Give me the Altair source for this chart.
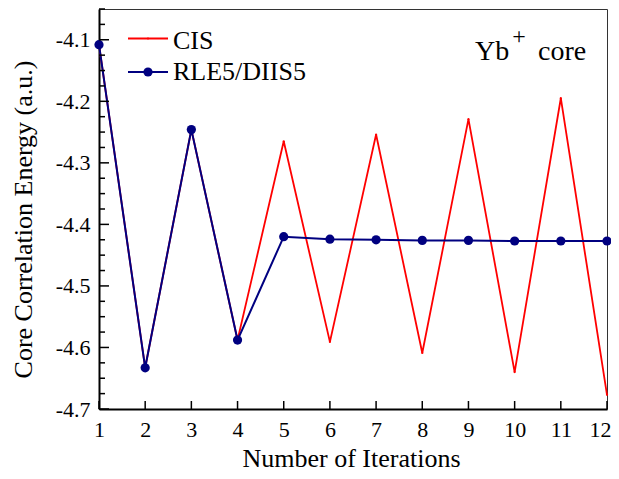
import altair as alt
import pandas as pd

# ---- data ----
iterations = [1, 2, 3, 4, 5, 6, 7, 8, 9, 10, 11, 12]
cis = [-4.108, -4.633, -4.246, -4.588, -4.265, -4.591, -4.254, -4.609, -4.229, -4.640, -4.195, -4.677]
rle = [-4.108, -4.633, -4.246, -4.588, -4.420, -4.424, -4.425, -4.426, -4.426, -4.427, -4.427, -4.427]
series_names = ["CIS", "RLE5/DIIS5"]
x_ticks = iterations
y_major = [-4.7, -4.6, -4.5, -4.4, -4.3, -4.2, -4.1]
y_minor = [round(-4.7 + 0.025 * i, 3) for i in range(1, 27) if i % 4]

FONT = "'Liberation Serif', 'Times New Roman', Times, serif"
RED = "#FF0000"
NAVY = "#000080"
W, H = 508, 400

df_cis = pd.DataFrame({"it": iterations, "E": cis})
df_rle = pd.DataFrame({"it": iterations, "E": rle})
df_xt = pd.DataFrame({"it": x_ticks})
df_ymaj = pd.DataFrame({"E": y_major})
df_ymin = pd.DataFrame({"E": y_minor})

x_scale = alt.Scale(domain=[1, 12], nice=False, zero=False)
y_scale = alt.Scale(domain=[-4.7, -4.05], nice=False, zero=False)

x_axis = alt.Axis(
    values=x_ticks, format="d", title="Number of Iterations",
    ticks=False, tickSize=0, grid=False, labelFlush=False,
    labelAlign={"condition": {"test": "datum.value == 12", "value": "right"}, "value": "center"},
    labelOffset={"condition": {"test": "datum.value == 12", "value": 4}, "value": 0},
    labelPadding=10, labelFont=FONT, labelFontSize=22, labelColor="black",
    domainColor="black", domainWidth=2,
    titleFont=FONT, titleFontSize=26, titleFontWeight="normal", titleColor="black",
    titleX=252, titleY=57, titleBaseline="alphabetic", titleAlign="center",
)
y_axis = alt.Axis(
    values=y_major, labelExpr="'-' + format(abs(datum.value), '.1f')",
    title="Core Correlation Energy (a.u.)",
    ticks=False, tickSize=0, grid=False, labelFlush=False,
    labelPadding=9, labelFont=FONT, labelFontSize=22, labelColor="black",
    domainColor="black", domainWidth=2,
    titleFont=FONT, titleFontSize=26, titleFontWeight="normal", titleColor="black",
    titleAngle=270, titleX=-68, titleY=210, titleBaseline="alphabetic", titleAlign="center",
)

X = alt.X("it:Q", scale=x_scale, axis=x_axis)
Y = alt.Y("E:Q", scale=y_scale, axis=y_axis)

cis_line = alt.Chart(df_cis).mark_line(color=RED, strokeWidth=1.8).encode(x=X, y=Y)
cis_pts = alt.Chart(df_cis).mark_point(color=RED, filled=True, size=5, opacity=1).encode(x=X, y=Y)
rle_line = alt.Chart(df_rle).mark_line(color=NAVY, strokeWidth=2).encode(x=X, y=Y)
rle_pts = alt.Chart(df_rle).mark_point(color=NAVY, filled=True, size=85, opacity=1).encode(x=X, y=Y)

# inward ticks
xt = alt.Chart(df_xt).mark_rule(color="black", strokeWidth=1.5).encode(
    x=X, y=alt.value(H), y2=alt.value(H - 8))
ymaj = alt.Chart(df_ymaj).mark_rule(color="black", strokeWidth=1.5).encode(
    y=Y, x=alt.value(0), x2=alt.value(10))
ymin = alt.Chart(df_ymin).mark_rule(color="black", strokeWidth=1.5).encode(
    y=Y, x=alt.value(0), x2=alt.value(6))

# manual legend
def txt(s, x, y, size, align="left", baseline="alphabetic"):
    return alt.Chart(pd.DataFrame({"t": [s]})).mark_text(
        font=FONT, fontSize=size, color="black", align=align, baseline=baseline
    ).encode(text="t:N", x=alt.value(x), y=alt.value(y))

leg_df = pd.DataFrame({"name": series_names})
leg_cis_line = alt.Chart(leg_df.iloc[[0]]).mark_rule(color=RED, strokeWidth=2).encode(
    x=alt.value(29), x2=alt.value(69), y=alt.value(29.5))
leg_cis_pt = alt.Chart(leg_df.iloc[[0]]).mark_point(color=RED, filled=True, size=5, opacity=1).encode(
    x=alt.value(49), y=alt.value(29.5))
leg_rle_line = alt.Chart(leg_df.iloc[[1]]).mark_rule(color=NAVY, strokeWidth=2).encode(
    x=alt.value(29), x2=alt.value(69), y=alt.value(63))
leg_rle_pt = alt.Chart(leg_df.iloc[[1]]).mark_point(color=NAVY, filled=True, size=85, opacity=1).encode(
    x=alt.value(49), y=alt.value(63))
leg_cis_txt = txt(series_names[0], 74, 39.5, 26)
leg_rle_txt = txt(series_names[1], 74, 71, 26)

ann_yb = txt("Yb", 376, 51, 28)
ann_plus = txt("+", 420, 28, 24, align="center", baseline="middle")
ann_core = txt("core", 439, 51, 28)

chart = alt.layer(
    cis_line, cis_pts, rle_line, rle_pts, xt, ymaj, ymin,
    leg_cis_line, leg_cis_pt, leg_rle_line, leg_rle_pt, leg_cis_txt, leg_rle_txt,
    ann_yb, ann_plus, ann_core,
).properties(
    width=W, height=H,
    autosize=alt.AutoSizeParams(type="none"),
    padding={"left": 91, "top": 1, "right": 4, "bottom": 62},
    background="white",
).configure_view(stroke="#333333", strokeWidth=1)

chart.save("out.html", embed_options={"renderer": "svg", "actions": False})
